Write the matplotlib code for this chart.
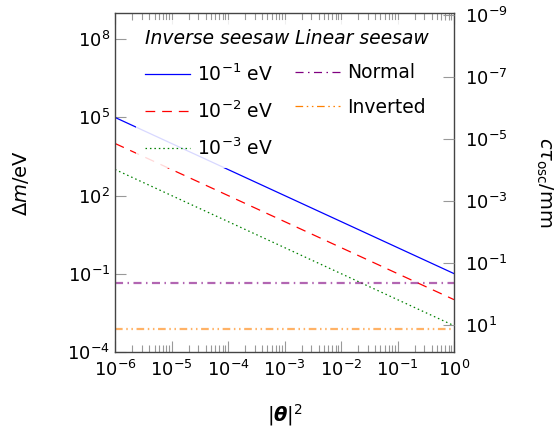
import matplotlib
matplotlib.use("Agg")
import matplotlib.pyplot as plt
from matplotlib.lines import Line2D
from matplotlib.ticker import LogLocator, NullLocator, LogFormatterMathtext

plt.rcParams['font.family'] = ['DejaVu Sans']
plt.rcParams['mathtext.fontset'] = 'dejavusans'
plt.rcParams['lines.scale_dashes'] = False

# |theta|^2 range and the end values of each line
theta2 = [1e-6, 1e0]
inv_labels = [r'$10^{-1}$ eV', r'$10^{-2}$ eV', r'$10^{-3}$ eV']
inv_dm = [[1e5, 1e-1], [1e4, 1e-2], [1e3, 1e-3]]
lin_labels = ['Normal', 'Inverted']
lin_dm = [0.042, 7.2e-4]

inv_colors = ['#0000ff', '#ff0000', '#008000']
inv_styles = ['-', (0, (7, 5)), (0, (1.1, 2.1))]
lin_colors = ['#800080', '#ff8000']
lin_styles = [(0, (5.8, 3.2, 1.1, 3.2)), (0, (5.5, 2.6, 1.1, 2.6, 1.1, 2.6))]

fs = 13
fig = plt.figure(figsize=(5.54, 4.29), dpi=100)
ax = fig.add_axes([0.2076, 0.1802, 0.6119, 0.7888])

for dm, c, ls in zip(inv_dm, inv_colors, inv_styles):
    ax.plot(theta2, dm, color=c, linestyle=ls, lw=0.9)
for dm, c, ls in zip(lin_dm, lin_colors, lin_styles):
    ax.plot(theta2, [dm, dm], color=c, linestyle=ls, lw=1.6, alpha=0.6)

ax.set_xscale('log')
ax.set_yscale('log')
ax.set_xlim(1e-6, 1e0)
ax.set_ylim(1e-4, 1e9)
ax.xaxis.set_major_locator(LogLocator(base=10, numticks=20))
ax.xaxis.set_minor_locator(LogLocator(base=10, subs=range(2, 10), numticks=20))
ax.set_yticks([1e-4, 1e-1, 1e2, 1e5, 1e8])
ax.yaxis.set_major_formatter(LogFormatterMathtext())
ax.yaxis.set_minor_locator(NullLocator())
ax.tick_params(which='both', direction='in', color='#999999', width=0.8,
               labelsize=fs, top=True)
ax.tick_params(which='major', length=8)
ax.tick_params(which='minor', length=4.8)
ax.tick_params(axis='x', pad=6)
for s in ax.spines.values():
    s.set_color('#444444')
    s.set_linewidth(1.0)

ax.set_xlabel(r'$|\mathbfit{\theta}|^2$', fontsize=fs + 1, labelpad=16)
ax.set_ylabel(r'$\mathit{\Delta m}/\mathrm{eV}$', fontsize=fs + 1, labelpad=26)

ax2 = ax.twinx()
ax2.set_yscale('log')
ax2.set_ylim(10**1.86, 10**-9.055)
ax2.set_yticks([1e-9, 1e-7, 1e-5, 1e-3, 1e-1, 1e1])
ax2.yaxis.set_major_formatter(LogFormatterMathtext())
ax2.yaxis.set_minor_locator(NullLocator())
ax2.tick_params(which='major', direction='in', color='#999999', width=0.8,
                length=8, labelsize=fs, pad=8)
ax2.set_ylabel(r'$c\tau_{\mathrm{osc}}/\mathrm{mm}$', fontsize=fs + 1,
               rotation=270, labelpad=34)
for s in ax2.spines.values():
    s.set_visible(False)

# legend: two columns, each topped by an italic heading
blank = Line2D([], [], linestyle='none')
handles = [blank]
labels = ['Inverse seesaw']
for lab, c, ls in zip(inv_labels, inv_colors, inv_styles):
    handles.append(Line2D([], [], color=c, linestyle=ls, lw=0.9))
    labels.append(lab)
handles.append(blank)
labels.append('Linear seesaw')
for lab, c, ls in zip(lin_labels, lin_colors, lin_styles):
    handles.append(Line2D([], [], color=c, linestyle=ls, lw=0.9))
    labels.append(lab)
handles.append(blank)
labels.append(' ')

leg = ax2.legend(handles, labels, ncol=2, loc='lower left',
                 bbox_to_anchor=(0.062, 0.543), borderaxespad=0,
                 fontsize=fs + 0.5, handlelength=2.4, handletextpad=0.35,
                 columnspacing=0.3, labelspacing=0.82, borderpad=0.5,
                 frameon=True, fancybox=False, framealpha=0.85,
                 edgecolor='none', facecolor='white')
for i in (0, 4):
    leg.get_texts()[i].set_fontstyle('italic')
# headings start at the left edge of their column
for col in leg._legend_handle_box.get_children():
    head = col.get_children()[0]
    head.get_children()[0].width = 0
    head.sep = 0

fig.savefig('out.png', dpi=100)
